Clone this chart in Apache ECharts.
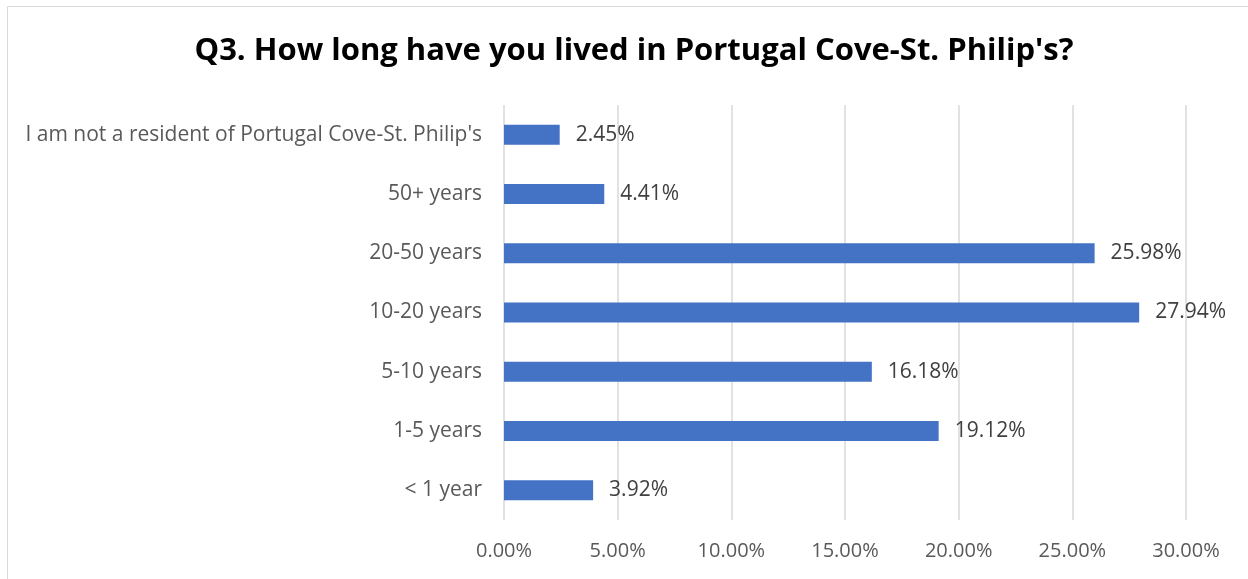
<!DOCTYPE html>
<html>
<head>
<meta charset="utf-8">
<script src="https://cdn.jsdelivr.net/npm/echarts@6/dist/echarts.min.js"></script>
<style>
  html, body { margin: 0; padding: 0; background: #fff; }
  #chart { width: 1248px; height: 579px; }
</style>
</head>
<body>
<div id="chart"></div>
<script>
// Survey answers, listed bottom to top as they appear on the category axis
const categories = [
  '< 1 year',
  '1-5 years',
  '5-10 years',
  '10-20 years',
  '20-50 years',
  '50+ years',
  "I am not a resident of Portugal Cove-St. Philip's"
];
const shares = [3.92, 19.12, 16.18, 27.94, 25.98, 4.41, 2.45];
const axisMin = 0;
const axisMax = 30;
const axisStep = 5;

const font = '"Open Sans", "Noto Sans", sans-serif';
const chart = echarts.init(document.getElementById('chart'));

chart.setOption({
  backgroundColor: '#ffffff',
  animation: false,
  title: {
    text: "Q3. How long have you lived in Portugal Cove-St. Philip's?",
    left: 629,
    top: 31,
    textAlign: 'center',
    textStyle: {
      fontFamily: font,
      fontSize: 31,
      fontWeight: 'bold',
      color: '#000000'
    }
  },
  graphic: [{
    type: 'rect',
    shape: { x: 7.5, y: 6.5, width: 1400, height: 700 },
    style: { fill: 'none', stroke: '#d9d9d9', lineWidth: 1 },
    silent: true
  }],
  grid: { left: 504, right: 62, top: 105, bottom: 59, containLabel: false },
  xAxis: {
    type: 'value',
    min: axisMin,
    max: axisMax,
    interval: axisStep,
    axisLine: { show: false },
    axisTick: { show: false },
    splitLine: { show: true, lineStyle: { color: '#d9d9d9', width: 1.5 } },
    axisLabel: {
      margin: 21,
      fontFamily: font,
      fontSize: 20,
      color: '#595959',
      formatter: v => v.toFixed(2) + '%'
    }
  },
  yAxis: {
    type: 'category',
    data: categories,
    axisLine: { show: false },
    axisTick: { show: false },
    axisLabel: {
      margin: 22,
      padding: [2, 0, 0, 0],
      fontFamily: font,
      fontSize: 21,
      color: '#595959'
    }
  },
  series: [{
    type: 'bar',
    data: shares,
    barWidth: 20,
    itemStyle: { color: '#4472C4' },
    label: {
      show: true,
      position: 'right',
      distance: 16,
      padding: [3, 0, 0, 0],
      fontFamily: font,
      fontSize: 21,
      color: '#404040',
      formatter: p => p.value.toFixed(2) + '%'
    }
  }]
});
</script>
</body>
</html>
